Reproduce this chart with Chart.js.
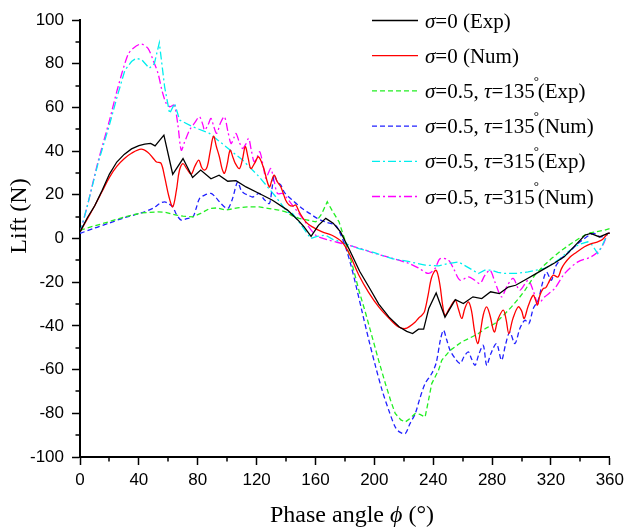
<!DOCTYPE html>
<html>
<head>
<meta charset="utf-8">
<script src="https://cdn.jsdelivr.net/npm/chart.js@4/dist/chart.umd.min.js"></script>
<style>
  html, body { margin: 0; padding: 0; background: #ffffff; }
  #wrap { width: 629px; height: 530px; }
</style>
</head>
<body>
<div id="wrap"><canvas id="c" width="629" height="530"></canvas></div>
<script>
// ---- Data (phase angle [deg], lift [N]) ----
const seriesLabels = [
  'σ=0 (Exp)', 'σ=0 (Num)',
  'σ=0.5, τ=135°(Exp)', 'σ=0.5, τ=135°(Num)',
  'σ=0.5, τ=315°(Exp)', 'σ=0.5, τ=315°(Num)'
];
const xTicksMajor = [0, 40, 80, 120, 160, 200, 240, 280, 320, 360];
const yTicksMajor = [-100, -80, -60, -40, -20, 0, 20, 40, 60, 80, 100];

const expSigma0 = [[0,3],[5,9.5],[10,15],[15,22],[20,29.5],[25,35],[30,38.5],[35,41],[40,42.5],[44,43.2],
  [48,43.5],[51,42.4],[57,47.3],[63,29.4],[70,36.6],[76.5,27.9],[82,31.3],[89,27.3],[94.5,29],[100.4,26.2],
  [106,26.5],[112.8,23.6],[121.8,20.6],[130.8,17.5],[141,13],[148,8.5],[152,5.5],[157,1],[162,6],[167,9.2],
  [172,7],[177,3],[183,-5],[190,-15],[197,-23],[203,-30],[210,-36],[217,-40.5],[222,-42.5],[226,-43.5],
  [230,-41.5],[233.5,-41.5],[237,-32],[242,-24.9],[248,-36],[255,-28],[260.5,-29.8],[267,-26.7],[273,-27.5],[279,-24.4],
  [285,-25.2],[291,-22.2],[296,-21.4],[302,-19.1],[309,-16.4],[316,-13.7],[323,-11],[329,-8.4],[336,-3.5],[343,1.5],
  [347,2.3],[353,0.7],[358.6,2.3],[360,2.5]];

const numSigma0 = [[0,3],[5,9],[10,15],[15,21.5],[20,28],[25,33],[30,36.5],[35,39],[41.5,40.9],[46,39.5],
  [50,36.5],[52,35],[55,34.5],[57.5,28.2],[60.5,19],[63,14.5],[65.5,22],[67.5,31],[69.9,34.3],[72.5,32],
  [75.6,29.5],[78,33],[80.7,35.9],[82.7,32.5],[84.6,31.3],[86.5,33],[88.5,40],[90.7,46.8],[92.7,42],[94.7,37.4],
  [96.5,32],[98.1,29.8],[100,34],[102,40.4],[104,37],[105.6,34.3],[108.3,32],[110.3,36],[112.3,42],[114.2,37],
  [116.1,32],[118.7,34.5],[121.3,37.4],[124.5,32.8],[128.6,23.6],[130.5,27],[132,29],[134,26],[136.5,23.6],[139.8,17.5],
  [142.1,15.3],[144.5,14.8],[146.6,15.3],[148.9,12.2],[153.4,7.6],[157.9,5.3],[164.6,3],[171.2,1.5],[178,-1.6],[183,-7],
  [189.5,-16.8],[196,-24.5],[203,-31.3],[210,-36.5],[216.5,-40.5],[221,-41.2],[224,-40.2],[227.8,-38.2],[230,-36.5],[232.3,-35.1],
  [234,-33.6],[236.5,-26],[239,-17.6],[242,-14.5],[244.5,-21],[246.5,-31],[248.1,-35.1],[251,-32],[254.9,-28.3],[257,-32],
  [259.4,-36.6],[261.5,-32],[263.9,-29],[266,-33],[268,-42],[270.2,-48.1],[272,-43],[274,-35],[276.3,-31.3],[278.5,-35],
  [281.5,-42.8],[284,-37],[287.6,-32.8],[289.5,-37],[291.4,-43.5],[294,-37],[297.7,-31.3],[300,-33],[301.8,-36.6],[304.5,-31],
  [307.9,-26],[309.5,-28],[310.8,-30.5],[312.5,-26],[314.7,-22.9],[316.5,-22.5],[318.1,-20.6],[321.4,-16.8],[324.8,-17.6],[327,-14],
  [329.3,-11.4],[333,-8.5],[336.1,-6.9],[342.8,-3.8],[347,-2.5],[351.8,-1.5],[355,-0.5],[358.6,2.3],[360,2.5]];

const expTau135 = [[0,3.8],[10,5.8],[19.2,7.6],[30,9.8],[41.7,11.7],[53,12.2],[58,12],[65.4,10.7],[70,10.2],[76.7,9.9],
  [82,11.5],[88,13.7],[93,14],[99.2,13],[107,14],[115,14.5],[121.8,14.5],[128.6,13.7],[135,13],[139.8,12.2],
  [144,10.5],[148.9,9.2],[154,8.5],[160.2,7.6],[164,11],[168,16.8],[172,12],[176,7.6],[180.4,-1.6],[185,-12],
  [189.5,-23.7],[194,-34],[198.5,-45],[203,-56],[207.5,-66.4],[211,-74],[214.2,-80.1],[218,-83],[221,-84],[224,-82.5],
  [227.8,-80.1],[231,-80.5],[234.5,-81.7],[236.8,-74],[239,-66.4],[243.6,-60.3],[245.8,-55.7],[251.5,-51.2],[259.4,-47.3],[265,-45.5],
  [270.7,-43.5],[276,-41],[281.9,-38.9],[288,-35],[293.2,-31.3],[298,-27.5],[302.3,-23.7],[309,-16.8],[315,-12.5],[320.3,-9.2],
  [327,-5.5],[333.8,-2.3],[339,0],[345,2.3],[350,3],[356.3,3.8],[360,4.5]];

const numTau135 = [[0,2.3],[10,4.8],[19.2,6.9],[30,9.5],[41.7,11.7],[50,14],[54.1,16],[57.5,16.8],[60,16],[63.1,14.5],
  [65.5,11],[68.8,8.4],[72,9],[76.7,9.9],[79,14],[81.2,18.3],[85,20],[89,20.6],[92,19],[95.8,16],
  [100.4,13.7],[103.5,18],[107.1,25.9],[109.5,22],[111.7,20.6],[114.5,19.8],[117.3,19],[121.8,20.6],[125,18],[128.6,16],
  [130.5,23],[132,29],[134,26],[136.5,24.4],[139,21],[144.3,17.6],[151,13.7],[156,11.5],[161.2,9.2],[167,7.5],
  [173.6,6.1],[177,2],[180.4,-3.8],[184,-12],[187.2,-20.6],[191.5,-33],[196.3,-46.6],[201,-59],[205.3,-69.5],[210,-79],
  [214.2,-86.3],[217,-88.5],[221,-89.3],[224,-85],[227.8,-80.1],[231,-73],[234.5,-66.4],[239,-61.8],[242,-57],[245,-46],
  [247,-42],[249,-46],[251.5,-51.2],[255,-55],[258.3,-57.2],[261,-54],[263.9,-51.9],[266,-55],[268.4,-58],[271,-53],
  [274,-48.9],[276.3,-58],[279,-53],[283,-48.1],[286.4,-55.7],[289,-49],[292,-42.8],[295.5,-48.1],[299,-41],[302.3,-37.4],
  [305,-39],[308,-32],[311.3,-28.3],[314,-21],[316.9,-15.3],[320.3,-19.1],[323,-13],[327,-9.2],[330,-7.5],[333.8,-5.3],
  [338,-2.5],[342.8,0],[346,1.5],[349.5,2.3],[354,0.7],[358.6,2.3],[360,2.5]];

const expTau315 = [[0,2.5],[5,15],[12.2,34.3],[20,52],[25.7,66],[30.5,77],[35,81],[38,82.4],[41.7,82],[47.1,77.9],
  [50.5,80],[53.9,89.6],[57.5,69.4],[60.9,57.2],[64.3,61.8],[67.7,54.2],[76.7,51.1],[88,48.1],[99.2,42],[110.5,35.9],
  [121.8,28.2],[133,19.1],[141,12],[144.3,11.5],[150,6.5],[156.8,0],[161,1],[166.9,1.5],[172,-0.5],[178,-1.6],
  [183,-3],[189.5,-4.6],[200,-6.5],[212,-9.2],[223,-10.5],[234.5,-12.2],[243.6,-12.5],[250,-11.5],[257.1,-10.7],[263,-13],
  [270.7,-16],[275,-14.5],[279.7,-14.5],[284,-15.5],[288.7,-16],[296,-16],[304.5,-15.3],[310,-14.5],[315.8,-13.7],[320,-12],
  [324.8,-9.9],[330,-7],[336.1,-3.8],[340,-2.5],[345,-1.5],[348,-3],[351.8,-6.9],[355,-3],[358.6,2.3],[360,2.5]];

const numTau315 = [[0,2.5],[5,15],[12.2,35],[20,54],[25.7,69],[32.5,84],[36,87],[41.5,89],[46.2,87],[50,81],
  [53,75.6],[56,67],[58.6,61.8],[61,60.3],[64,61],[66.5,52],[68.8,40.4],[71,44],[74.4,49.6],[78,53],
  [81.2,55.7],[83.5,52],[84.6,49.6],[87,52],[89,55],[91,51],[92.9,48.1],[95.5,53],[98.1,55.7],[100.5,49],
  [102.6,43.5],[104.5,46],[106,48.1],[108.3,44],[110.5,41.2],[112.5,43],[114.6,45.8],[116.5,40],[118.4,35.1],[120.5,37.5],
  [122.2,39.7],[124.5,33],[126.3,27.5],[128,30],[129.7,32],[132,26],[134.2,20.6],[137.6,20.6],[144.3,15.3],[152.2,8.4],
  [160.2,1.5],[168,-0.5],[178,-2.3],[190,-4.5],[200.7,-6.9],[212,-9],[223.3,-11.4],[230,-13.5],[236.8,-16],[241.3,-13.7],
  [244.7,-9.2],[250.4,-9.9],[254,-14],[258.3,-19.1],[263.9,-17.6],[268,-19],[271.8,-20.6],[275,-17],[278.6,-14.5],[282,-20],
  [286.4,-26.7],[290,-22],[294.3,-18.3],[298.8,-23.7],[304.5,-19.1],[308,-24],[311.3,-29.8],[315.8,-26.7],[322.5,-22.9],[329.3,-16],
  [338.3,-10.7],[347.3,-8.4],[353,-5.3],[356,-2],[358.6,2.3],[360,2.5]];

// ---- Styles ----
const seriesData = [expSigma0, numSigma0, expTau135, numTau135, expTau315, numTau315];
const seriesColors = ['#000000', '#ff0000', '#22ee22', '#2020ff', '#00eeee', '#ff00ff'];
const seriesDash = [[], [], [5, 3], [5, 3], [8, 3, 2, 3], [8, 3, 2, 3]];
const seriesTension = [0, 0.35, 0, 0.3, 0, 0.3];

const SANS = '"Liberation Sans", Arial, sans-serif';
const SERIF = '"Liberation Serif", "Times New Roman", serif';

const datasets = seriesData.map((d, i) => ({
  label: seriesLabels[i],
  data: d.map(p => ({ x: p[0], y: p[1] })),
  borderColor: seriesColors[i],
  borderWidth: 1.3,
  borderDash: seriesDash[i],
  pointRadius: 0,
  tension: seriesTension[i],
  fill: false
}));

const minorTicks = {
  id: 'minorTicks',
  afterDraw(chart) {
    const ctx = chart.ctx, xs = chart.scales.x, ys = chart.scales.y, a = chart.chartArea;
    ctx.save();
    ctx.strokeStyle = '#000';
    ctx.lineWidth = 1.5;
    ctx.beginPath();
    for (let v = 20; v < 360; v += 40) {
      const px = Math.round(xs.getPixelForValue(v));
      ctx.moveTo(px, a.bottom); ctx.lineTo(px, a.bottom + 4.5);
    }
    for (let v = -90; v < 100; v += 20) {
      const py = Math.round(ys.getPixelForValue(v));
      ctx.moveTo(a.left, py); ctx.lineTo(a.left - 4.5, py);
    }
    ctx.stroke();
    ctx.restore();
  }
};

function drawRich(ctx, text, x, y, size) {
  // sigma/tau/phi italic, degree superscript
  let cx = x;
  for (const ch of text) {
    if (ch === 'σ' || ch === 'τ' || ch === 'ϕ') {
      ctx.font = 'italic ' + size + 'px ' + SERIF;
      ctx.fillText(ch, cx, y);
      cx += ctx.measureText(ch).width;
    } else if (ch === '°') {
      ctx.font = Math.round(size * 0.62) + 'px ' + SERIF;
      ctx.fillText(ch, cx - 1, y - size * 0.62);
      cx += ctx.measureText(ch).width * 0.55;
    } else {
      ctx.font = size + 'px ' + SERIF;
      ctx.fillText(ch, cx, y);
      cx += ctx.measureText(ch).width;
    }
  }
  return cx - x;
}

const legendAndTitles = {
  id: 'legendAndTitles',
  afterDraw(chart) {
    const ctx = chart.ctx;
    ctx.save();
    ctx.fillStyle = '#000';
    ctx.textBaseline = 'alphabetic';
    ctx.textAlign = 'left';
    // legend
    const rowY0 = 20.5, rowStep = 35.2;
    chart.data.datasets.forEach((ds, i) => {
      const y = rowY0 + i * rowStep;
      ctx.save();
      ctx.strokeStyle = ds.borderColor;
      ctx.lineWidth = 1.3;
      ctx.setLineDash(ds.borderDash);
      ctx.beginPath();
      ctx.moveTo(372, y); ctx.lineTo(418, y);
      ctx.stroke();
      ctx.restore();
      ctx.fillStyle = '#000';
      drawRich(ctx, ds.label, 425, y + 7, 21);
    });
    // x title
    const parts = ['Phase angle ', 'ϕ', ' (°)'];
    let w = 0;
    parts.forEach((p, k) => {
      ctx.font = (k === 1 ? 'italic ' : '') + '24px ' + SERIF;
      w += ctx.measureText(p).width;
    });
    let x = 352 - w / 2;
    parts.forEach((p, k) => {
      ctx.font = (k === 1 ? 'italic ' : '') + '24px ' + SERIF;
      ctx.fillText(p, x, 522);
      x += ctx.measureText(p).width;
    });
    // y title
    ctx.save();
    ctx.translate(26, 216);
    ctx.rotate(-Math.PI / 2);
    ctx.font = '24px ' + SERIF;
    ctx.textAlign = 'center';
    ctx.fillText('Lift (N)', 0, 0);
    ctx.restore();
    ctx.restore();
  }
};

new Chart(document.getElementById('c'), {
  type: 'line',
  data: { datasets },
  options: {
    responsive: false,
    devicePixelRatio: 1,
    animation: false,
    layout: { padding: { top: 20, right: 17, left: 0, bottom: 0 } },
    plugins: { legend: { display: false }, tooltip: { enabled: false } },
    scales: {
      x: {
        type: 'linear', min: 0, max: 360,
        afterBuildTicks: s => { s.ticks = xTicksMajor.map(v => ({ value: v })); },
        afterFit: s => { s.height = 73; },
        ticks: { color: '#000', font: { family: SANS, size: 17 }, padding: 5, maxRotation: 0 },
        grid: { drawOnChartArea: false, drawTicks: true, tickLength: 8, tickWidth: 1.5, tickColor: '#000' },
        border: { display: true, color: '#000', width: 2 }
      },
      y: {
        type: 'linear', min: -100, max: 100,
        afterBuildTicks: s => { s.ticks = yTicksMajor.map(v => ({ value: v })); },
        afterFit: s => { s.width = 80; },
        ticks: { color: '#000', font: { family: SANS, size: 17 }, padding: 8 },
        grid: { drawOnChartArea: false, drawTicks: true, tickLength: 8, tickWidth: 1.5, tickColor: '#000' },
        border: { display: true, color: '#000', width: 2 }
      }
    }
  },
  plugins: [minorTicks, legendAndTitles]
});
</script>
</body>
</html>
